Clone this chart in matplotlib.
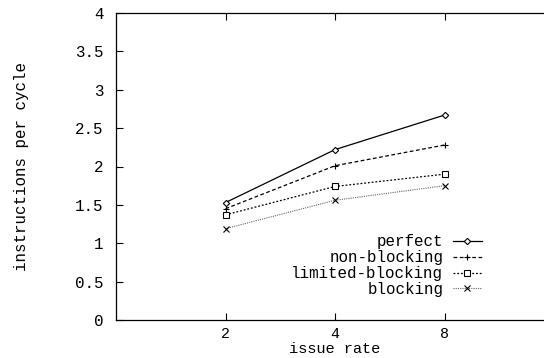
import matplotlib
matplotlib.use("Agg")
import matplotlib.pyplot as plt

issue_rates = ["2", "4", "8"]
perfect = [1.53, 2.22, 2.67]
non_blocking = [1.45, 2.01, 2.28]
limited_blocking = [1.37, 1.74, 1.90]
blocking = [1.19, 1.56, 1.75]
y_ticks = [0, 0.5, 1, 1.5, 2, 2.5, 3, 3.5, 4]
y_tick_labels = ["0", "0.5", "1", "1.5", "2", "2.5", "3", "3.5", "4"]

plt.rcParams['font.family'] = ['Liberation Mono', 'DejaVu Sans Mono']
plt.rcParams['font.size'] = 11.4

fig = plt.figure(figsize=(5.44, 3.58), dpi=100)
ax = fig.add_axes([116/544, 1-320/358, (554-116)/544, (320-13)/358])

xs = [1, 2, 3]
ax.plot(xs, perfect, color='black', lw=0.9, ls='-', marker='D', ms=3.2,
        mfc='white', mec='black', mew=0.8, label='perfect')
ax.plot(xs, non_blocking, color='black', lw=0.9, ls=(0, (3, 2)), marker='+', ms=5,
        mew=0.8, label='non-blocking')
ax.plot(xs, limited_blocking, color='black', lw=0.9, ls=(0, (1.5, 1.5)), marker='s', ms=3.8,
        mfc='white', mec='black', mew=0.8, label='limited-blocking')
ax.plot(xs, blocking, color='#666666', lw=0.8, ls=(0, (1, 1)), marker='x', ms=4,
        mec='black', mew=0.8, label='blocking')

ax.set_xlim(0, 4)
ax.set_ylim(0, 4)
ax.set_xticks(xs)
ax.set_xticklabels(issue_rates)
ax.set_yticks(y_ticks)
ax.set_yticklabels(y_tick_labels)
ax.tick_params(direction='in', length=5, width=0.8, top=True, right=True, colors='black')
ax.tick_params(axis='y', pad=9)
ax.tick_params(axis='x', pad=5, labelsize=10.8)
for s in ax.spines.values():
    s.set_linewidth(0.9)

ax.set_xlabel('issue rate', labelpad=0.5, fontsize=11)
ax.set_ylabel('instructions per cycle', labelpad=33)

leg = ax.legend(loc='lower right', bbox_to_anchor=((482-116)/438, (320-297)/307),
                markerfirst=False, frameon=False, handlelength=1.85, handletextpad=0.6,
                labelspacing=0.06, borderaxespad=0, borderpad=0, fontsize=11.4)

fig.savefig('out.png', dpi=100)
